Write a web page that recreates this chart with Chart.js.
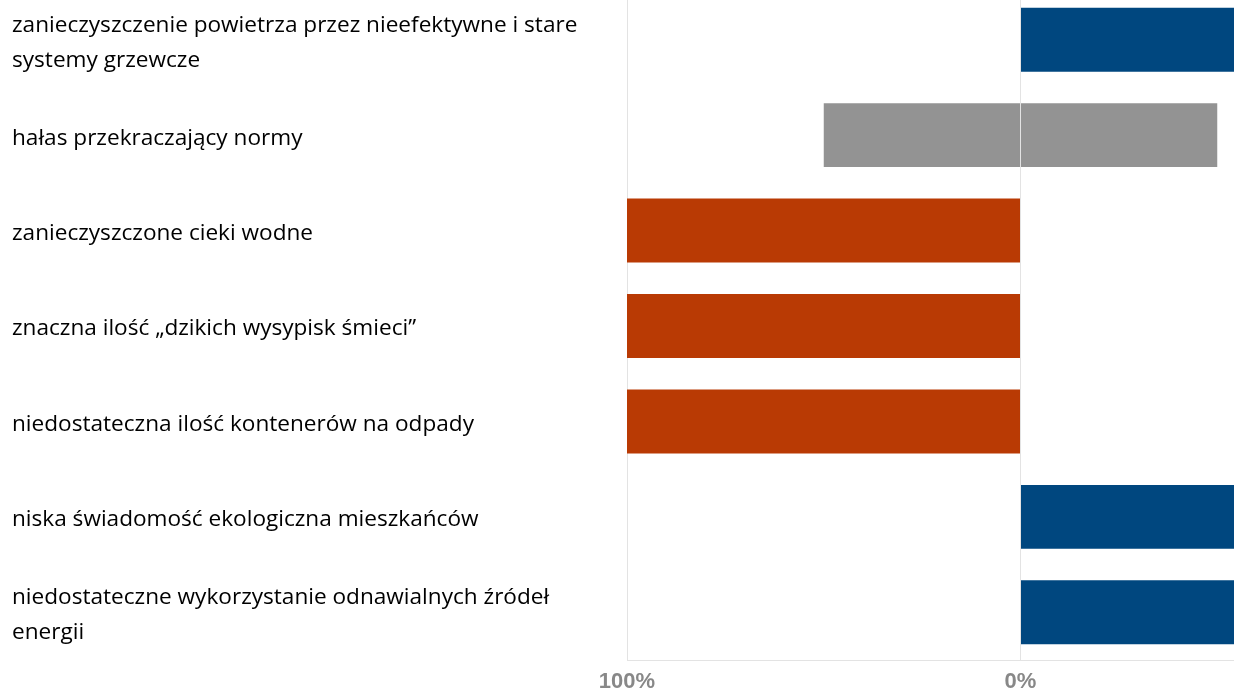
<!DOCTYPE html>
<html>
<head>
<meta charset="utf-8">
<script src="https://cdn.jsdelivr.net/npm/chart.js@4"></script>
<style>
html,body{margin:0;padding:0;background:#fff;}
#wrap{position:relative;width:1234px;height:689px;overflow:hidden;background:#fff;}
#c{position:absolute;left:0;top:-8px;}
</style>
</head>
<body>
<div id="wrap"><canvas id="c" width="1414" height="704"></canvas></div>
<script>
const categories = [
  ["zanieczyszczenie powietrza przez nieefektywne i stare", "systemy grzewcze"],
  "hałas przekraczający normy",
  "zanieczyszczone cieki wodne",
  "znaczna ilość „dzikich wysypisk śmieci”",
  "niedostateczna ilość kontenerów na odpady",
  "niska świadomość ekologiczna mieszkańców",
  ["niedostateczne wykorzystanie odnawialnych źródeł", "energii"]
];
const negativeShare = [0, 0, 100, 100, 100, 0, 0];
const neutralShare  = [0, 100, 0, 0, 0, 0, 0];
const positiveShare = [100, 0, 0, 0, 0, 100, 100];
const tickValues = [-100, 0];

const LABEL_FONT = 'Open Sans';
const LABEL_SIZE = 22.6;

const ctx = document.getElementById('c').getContext('2d');

new Chart(ctx, {
  type: 'bar',
  data: {
    labels: categories,
    datasets: [
      {label: 'neg', data: negativeShare.map(v => -v), backgroundColor: '#b93a04'},
      {label: 'neuL', data: neutralShare.map(v => -v / 2), backgroundColor: '#939393'},
      {label: 'neuR', data: neutralShare.map(v => v / 2), backgroundColor: '#939393'},
      {label: 'pos', data: positiveShare, backgroundColor: '#00477f'}
    ]
  },
  options: {
    indexAxis: 'y',
    responsive: false,
    animation: false,
    devicePixelRatio: 1,
    layout: {padding: {left: 12, right: 0, top: 0, bottom: 0}},
    plugins: {legend: {display: false}, tooltip: {enabled: false}},
    datasets: {bar: {barPercentage: 0.67, categoryPercentage: 1}},
    scales: {
      x: {
        stacked: true,
        min: -100, max: 100,
        z: 1,
        afterBuildTicks: s => { s.ticks = tickValues.map(v => ({value: v})); },
        afterFit: s => { s.height = 36; s.paddingLeft = 0; s.paddingRight = 0; },
        grid: {color: '#e3e3e3', lineWidth: 1, drawTicks: false},
        border: {color: '#e3e3e3'},
        ticks: {
          padding: 9,
          color: '#888888',
          font: {family: 'Liberation Sans', size: 22, weight: 'bold'},
          callback: v => Math.abs(v) + '%'
        }
      },
      y: {
        stacked: true,
        grid: {display: false},
        border: {display: false},
        afterFit: s => { s.width = 615; s.paddingTop = 0; s.paddingBottom = 0; },
        ticks: {
          crossAlign: 'far',
          color: '#000000',
          padding: 0,
          labelOffset: 3,
          font: {family: LABEL_FONT, size: LABEL_SIZE, lineHeight: 35 / LABEL_SIZE}
        }
      }
    }
  }
});
</script>
</body>
</html>
